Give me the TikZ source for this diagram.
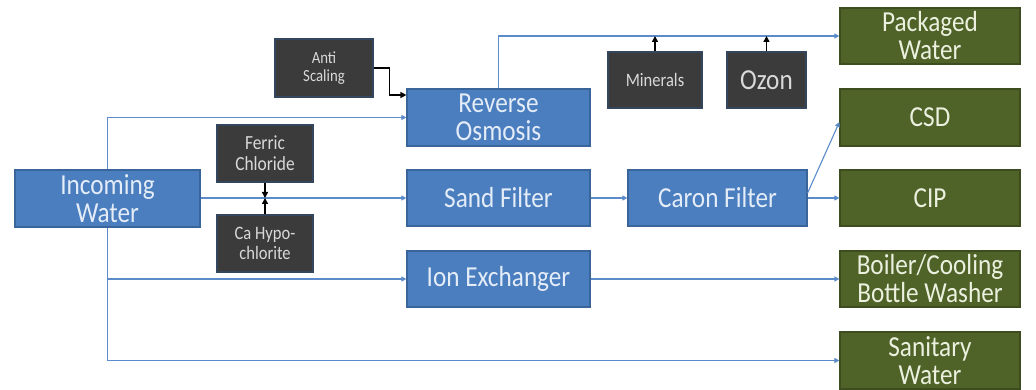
\documentclass[tikz,border=0pt]{standalone}
\usepackage{fontspec}
\setmainfont{Carlito}[FakeStretch=0.87]
\usetikzlibrary{arrows.meta,calc}

\definecolor{procfill}{HTML}{4A7EBF}
\definecolor{procline}{HTML}{3A659A}
\definecolor{proctext}{HTML}{E4ECF7}
\definecolor{destfill}{HTML}{4F6228}
\definecolor{destline}{HTML}{3D4D1F}
\definecolor{desttext}{HTML}{EBF1DE}
\definecolor{addfill}{HTML}{3B3B3B}
\definecolor{addline}{HTML}{34465E}
\definecolor{addtext}{HTML}{D9D9D9}
\definecolor{flowc}{HTML}{5B8BC8}

\newcommand\lblbig{\fontsize{29}{28}\selectfont}
\newcommand\lblsmall{\fontsize{18}{18}\selectfont}

\tikzset{
  proc/.style={draw=procline, fill=procfill, text=proctext, line width=1.2pt,
    minimum width=183pt, minimum height=56pt, inner sep=0pt, align=center, font=\lblbig},
  dest/.style={draw=destline, fill=destfill, text=desttext, line width=1.2pt,
    minimum width=180pt, minimum height=56pt, inner sep=0pt, align=center, font=\lblbig},
  addbox/.style={draw=addline, fill=addfill, text=addtext, line width=1.2pt,
    minimum width=96pt, minimum height=57pt, inner sep=0pt, align=center, font=\lblsmall},
  flow/.style={draw=flowc, line width=1.1pt, -{Triangle[length=5pt,width=5pt]}},
  dose/.style={draw=black, line width=1.5pt, -{Triangle[length=6pt,width=6pt]}},
}

\begin{document}
\begin{tikzpicture}[x=1pt,y=-1pt]
  \useasboundingbox (0,0) rectangle (1036,390);

  % treatment stages
  \node[proc, minimum width=185pt, minimum height=57pt] (inc) at (107.5,198.5) {Incoming\\Water};
  \node[proc, minimum height=57pt] (ro) at (498.5,117.5) {Reverse\\Osmosis};
  \node[proc] (sand) at (498.5,198) {Sand Filter};
  \node[proc] (ion) at (498.5,279) {Ion Exchanger};
  \node[proc, minimum width=179pt] (caron) at (717.5,198) {Caron Filter};

  % chemical additions
  \node[addbox, minimum width=98pt, minimum height=58pt, font=\fontsize{17}{17.5}\selectfont] (anti) at (324,68) {Anti\\Scaling};
  \node[addbox, font=\fontsize{20}{21}\selectfont] (fer) at (265,153.5) {Ferric\\Chloride};
  \node[addbox, font=\fontsize{19}{20}\selectfont] (ca) at (265,243.5) {Ca Hypo-\\chlorite};
  \node[addbox, minimum width=94pt, minimum height=56pt, font=\fontsize{19}{19}\selectfont] (mins) at (655,80) {Minerals};
  \node[addbox, minimum width=79pt, minimum height=56pt, font=\lblbig] (ozon) at (766.5,80) {Ozon};

  % uses
  \node[dest] (pw) at (930,36) {Packaged\\Water};
  \node[dest, minimum height=57pt] (csd) at (930,117.5) {CSD};
  \node[dest] (cip) at (930,198) {CIP};
  \node[dest] (boil) at (930,279) {Boiler/Cooling\\Bottle Washer};
  \node[dest, minimum height=57pt] (san) at (930,360.5) {Sanitary\\Water};

  % water distribution
  \draw[flow] (inc.north) |- (ro.west);
  \draw[flow] (inc.east |- sand.west) -- (sand.west);
  \draw[flow] (inc.south |- ion.west) -- (ion.west);
  \draw[flow] (inc.south) |- (san.west);
  \draw[flow] (ro.north) |- (pw.west);
  \draw[flow] (sand.east) -- (caron.west);
  \draw[flow] (caron.east) -- (cip.west);
  \draw[flow] ($(caron.east)+(0,-5)$) -- ($(csd.west)+(0,4.5)$);
  \draw[flow] (ion.east) -- (boil.west);

  % dosing
  \draw[dose] (anti.east) -- ++(16,0) |- ($(ro.west)+(0,-22.5)$);
  \draw[dose] (fer.south) -- (fer.south |- sand.west);
  \draw[dose] (ca.north) -- (ca.north |- sand.west);
  \draw[dose] (mins.north) -- (mins.north |- pw.west);
  \draw[dose] (ozon.north) -- (ozon.north |- pw.west);
\end{tikzpicture}
\end{document}
